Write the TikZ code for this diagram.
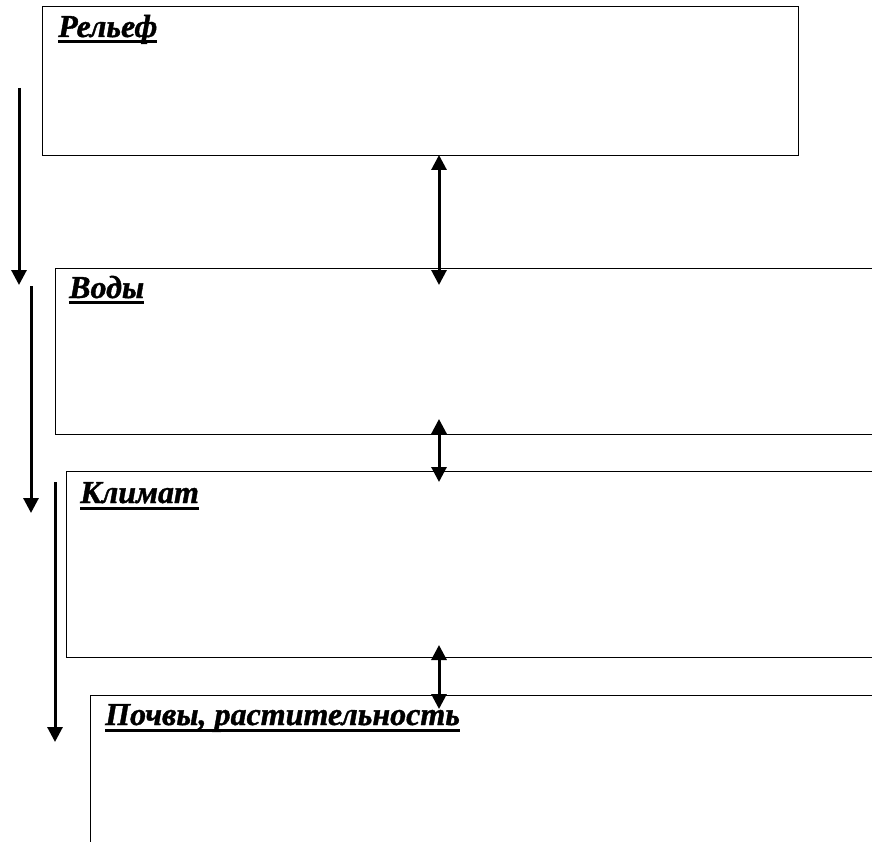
\documentclass[tikz,border=0pt]{standalone}
\usepackage{fontspec}
\setmainfont{Liberation Serif}[BoldItalicFeatures={FakeBold=1.2}]
\usetikzlibrary{arrows.meta}
\newcommand\myul[1]{\setbox0\hbox{#1}\rlap{\rule[-6.5pt]{\wd0}{3pt}}\box0}
\tikzset{
  box/.style={draw, line width=1pt},
  ttl/.style={anchor=base west, inner sep=0pt, font=\fontsize{32}{34}\selectfont\bfseries\itshape},
  dbl/.style={line width=3pt, {Triangle[width=15pt,length=15pt]}-{Triangle[width=15pt,length=15pt]}},
  sgl/.style={line width=3pt, -{Triangle[width=15pt,length=15pt]}}
}
\begin{document}
\begin{tikzpicture}[x=1pt,y=-1pt]
\useasboundingbox (0,0) rectangle (872,842);
\clip (0,0) rectangle (872,842);
\draw[box] (42,7) rectangle (798,156);
\draw[box] (55,268) rectangle (900,434);
\draw[box] (66,471) rectangle (900,657);
\draw[box] (90,695) -- (900,695) (90,695) -- (90,900);
\node[ttl] (t1) at (58,37) {\myul{Рельеф}};
\node[ttl] (t2) at (69,298) {\myul{Воды}};
\node[ttl] (t3) at (80,503) {\myul{Климат}};
\node[ttl] (t4) at (105,725) {\myul{Почвы, растительность}};
\coordinate (a1s) at (439,155); \coordinate (a1e) at (439,285);
\coordinate (a2s) at (439,419); \coordinate (a2e) at (439,482);
\coordinate (a3s) at (439,645); \coordinate (a3e) at (439,709);
\draw[dbl] (a1s) -- (a1e);
\draw[dbl] (a2s) -- (a2e);
\draw[dbl] (a3s) -- (a3e);
\coordinate (l1s) at (19,88); \coordinate (l1e) at (19,285);
\coordinate (l2s) at (31,286); \coordinate (l2e) at (31,513);
\coordinate (l3s) at (55,482); \coordinate (l3e) at (55,742);
\draw[sgl] (l1s) -- (l1e);
\draw[sgl] (l2s) -- (l2e);
\draw[sgl] (l3s) -- (l3e);
\end{tikzpicture}
\end{document}
